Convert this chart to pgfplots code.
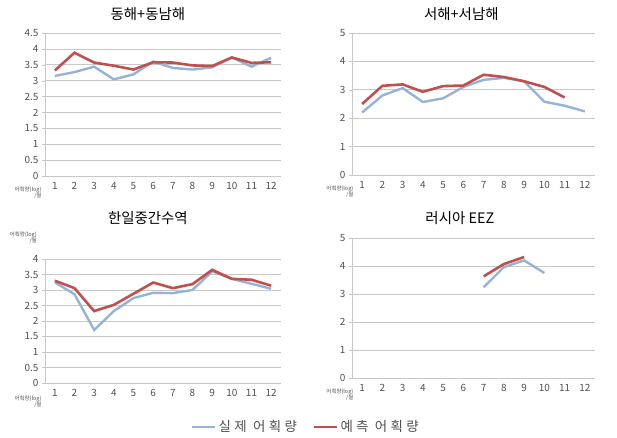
\documentclass[border=0pt]{standalone}
\usepackage{pgfplots}
\pgfplotsset{compat=1.18}
\usepackage{fontspec}
\setmainfont{Noto Sans CJK KR}
\newfontfamily\legfont[LetterSpace=25]{Noto Sans CJK KR}

\definecolor{actual}{HTML}{95B3D7}
\definecolor{pred}{HTML}{C0504D}
\definecolor{gridc}{HTML}{C8C8C8}
\definecolor{tickc}{HTML}{505050}

\pgfplotsset{
  panel/.style={
    scale only axis,
    anchor=south west,
    xmin=0.5, xmax=12.5,
    xtick={1,...,12},
    x tick style={draw=none},
    extra x ticks={0.5,1.5,...,12.5},
    extra x tick labels={},
    extra x tick style={tick style={draw=gridc}, major tick length=4pt, tick align=outside},
    axis lines*=left,
    axis line style={draw=gridc, line width=0.6pt},
    ymajorgrids,
    major grid style={draw=gridc, line width=0.6pt},
    y tick style={draw=gridc},
    ytick align=outside,
    major tick length=3pt,
    ymin=0,
    tick label style={font=\fontsize{10}{11}\selectfont, text=tickc},
    xticklabel style={yshift=-3bp},
    /pgf/number format/assume math mode=true,
    title style={font=\fontsize{14.5}{16}\selectfont, anchor=center},
    clip=false,
  },
  act/.style={actual, line width=2.4pt},
  prd/.style={pred, line width=2.6pt},
}

\newcommand{\unitlabel}[1]{\node[font=\fontsize{5.5}{6}\selectfont, text=tickc, align=right, anchor=east] at (#1) {어획량(log)\\/월};}

\begin{document}
\begin{tikzpicture}
\path[use as bounding box] (0,0) rectangle (617bp,438bp);

% 동해+동남해
\begin{axis}[panel, at={(45bp,262bp)}, width=236bp, height=143bp,
  ymax=4.5, ytick={0,0.5,...,4.5},
  title={동해+동남해}, title style={at={(0.436,1)}, yshift=13bp}]
\addplot[act] coordinates {(1,3.15) (2,3.27) (3,3.44) (4,3.04) (5,3.2) (6,3.6) (7,3.4) (8,3.35) (9,3.42) (10,3.73) (11,3.44) (12,3.72)};
\addplot[prd] coordinates {(1,3.32) (2,3.88) (3,3.57) (4,3.47) (5,3.35) (6,3.58) (7,3.57) (8,3.48) (9,3.46) (10,3.73) (11,3.56) (12,3.58)};
\unitlabel{rel axis cs:0.0,-0.12}
\end{axis}

% 서해+서남해
\begin{axis}[panel, at={(352bp,263bp)}, width=243bp, height=142bp,
  ymax=5, ytick={0,1,...,5},
  title={서해+서남해}, title style={at={(0.45,1)}, yshift=13bp}]
\addplot[act] coordinates {(1,2.2) (2,2.8) (3,3.06) (4,2.57) (5,2.7) (6,3.1) (7,3.35) (8,3.42) (9,3.3) (10,2.58) (11,2.44) (12,2.24)};
\addplot[prd] coordinates {(1,2.5) (2,3.14) (3,3.19) (4,2.93) (5,3.13) (6,3.15) (7,3.53) (8,3.45) (9,3.3) (10,3.1) (11,2.73)};
\unitlabel{rel axis cs:0.02,-0.12}
\end{axis}

% 한일중간수역
\begin{axis}[panel, at={(45bp,55bp)}, width=236bp, height=124bp,
  ymax=4, ytick={0,0.5,...,4},
  title={한일중간수역}, title style={at={(0.436,1)}, yshift=35bp},
  legend columns=2,
  legend style={at={(1.106,-0.355)}, anchor=center, draw=none, fill=none,
    font=\legfont\fontsize{13.5}{15}\selectfont, text=tickc,
    /tikz/every even column/.append style={column sep=14bp}},
  legend image code/.code={\draw[#1] (0bp,0bp) -- (23bp,0bp);}]
\addplot[act] coordinates {(1,3.25) (2,2.86) (3,1.71) (4,2.32) (5,2.74) (6,2.91) (7,2.9) (8,3.0) (9,3.6) (10,3.36) (11,3.2) (12,3.04)};
\addlegendentry{실제 어획량}
\addplot[prd] coordinates {(1,3.3) (2,3.06) (3,2.32) (4,2.52) (5,2.88) (6,3.24) (7,3.06) (8,3.19) (9,3.65) (10,3.36) (11,3.33) (12,3.14)};
\addlegendentry{예측 어획량}
\unitlabel{rel axis cs:0.0,-0.15}
\unitlabel{rel axis cs:-0.02,1.17}
\end{axis}

% 러시아 EEZ
\begin{axis}[panel, at={(352bp,60bp)}, width=243bp, height=140bp,
  ymax=5, ytick={0,1,...,5},
  title={러시아 EEZ}, title style={at={(0.444,1)}, yshift=14bp}]
\addplot[act] coordinates {(7,3.24) (8,3.96) (9,4.2) (10,3.75)};
\addplot[prd] coordinates {(7,3.63) (8,4.07) (9,4.32)};
\unitlabel{rel axis cs:0.02,-0.12}
\end{axis}
\end{tikzpicture}
\end{document}
